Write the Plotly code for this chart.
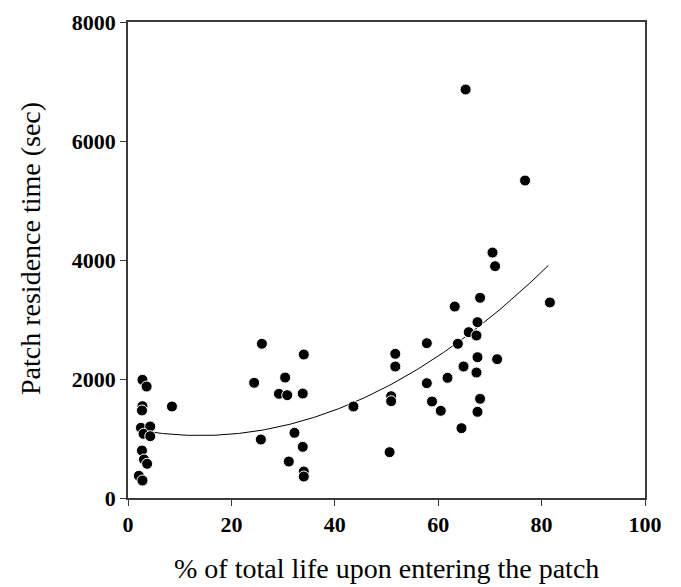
import numpy as np
import plotly.graph_objects as go

# Data
life_pct = [2.8, 3.6, 2.8, 2.7, 8.5, 2.5, 4.3, 3.0, 4.3, 2.7, 3.1, 3.7, 2.1, 2.8,
            25.9, 34.0, 30.4, 24.4, 29.2, 30.8, 33.8, 25.7, 32.2, 33.8, 31.1, 34.0, 34.0,
            43.6,
            68.1, 63.2, 67.6, 65.9, 67.4, 57.8, 63.8, 51.7, 51.7, 67.6, 71.4, 64.9, 67.4,
            61.8, 57.8, 50.9, 50.9, 58.8, 60.5, 68.1, 67.6, 64.5, 50.6,
            70.5, 71.0, 81.6, 76.8, 65.3]
residence_sec = [1987, 1874, 1543, 1471, 1538, 1180, 1202, 1079, 1039, 798, 647, 575, 373, 294,
                 2592, 2412, 2025, 1936, 1751, 1728, 1756, 983, 1096, 860, 613, 445, 361,
                 1538,
                 3365, 3218, 2955, 2787, 2731, 2602, 2592, 2423, 2210, 2366, 2333, 2210, 2109,
                 2020, 1930, 1711, 1627, 1622, 1466, 1667, 1449, 1173, 770,
                 4125, 3896, 3286, 5336, 6866]

# Quadratic trend curve coefficients (c2, c1, c0)
fit_coeffs = [0.631, -17.67, 1174.0]

x_ticks = [0, 20, 40, 60, 80, 100]
y_ticks = [0, 2000, 4000, 6000, 8000]

x_title = "% of total life upon entering the patch"
y_title = "Patch residence time (sec)"

xs = np.linspace(min(life_pct), 81.3, 200)
ys = np.polyval(fit_coeffs, xs)

fig = go.Figure()
fig.add_trace(go.Scatter(x=xs, y=ys, mode="lines",
                         line=dict(color="black", width=1), hoverinfo="skip",
                         showlegend=False))
fig.add_trace(go.Scatter(x=life_pct, y=residence_sec, mode="markers",
                         marker=dict(color="black", size=11,
                                     line=dict(color="white", width=1)),
                         showlegend=False))

font_family = "Liberation Serif, Times New Roman, serif"
axis_color = "#3a3a3a"
fig.update_layout(
    width=681, height=587,
    margin=dict(l=128, r=36, t=22, b=89, autoexpand=False),
    paper_bgcolor="white", plot_bgcolor="white",
    font=dict(family=font_family, color="black"),
    xaxis=dict(range=[0, 100], tickvals=x_ticks, ticks="outside", ticklen=6,
               tickcolor=axis_color, showline=True, linecolor=axis_color, linewidth=1.5,
               mirror=True, showgrid=False, zeroline=False, automargin=False,
               tickfont=dict(family=font_family, size=22, weight="bold")),
    yaxis=dict(range=[0, 8000], tickvals=y_ticks, ticks="outside", ticklen=6,
               tickcolor=axis_color, showline=True, linecolor=axis_color, linewidth=1.5,
               mirror=True, showgrid=False, zeroline=False, automargin=False,
               tickfont=dict(family=font_family, size=22, weight="bold")),
    annotations=[
        dict(text=x_title, xref="paper", yref="paper", x=0.5, y=0,
             xanchor="center", yanchor="bottom", yshift=-88, showarrow=False,
             font=dict(family=font_family, size=28, color="black")),
        dict(text=y_title, xref="paper", yref="paper", x=0, y=0.5,
             xanchor="center", yanchor="middle", xshift=-98, yshift=11,
             textangle=-90, showarrow=False,
             font=dict(family=font_family, size=28, color="black")),
    ],
)

fig.write_html("out.html", config={"displayModeBar": False},
               post_script="document.body.style.margin='0';document.body.style.padding='0';")
